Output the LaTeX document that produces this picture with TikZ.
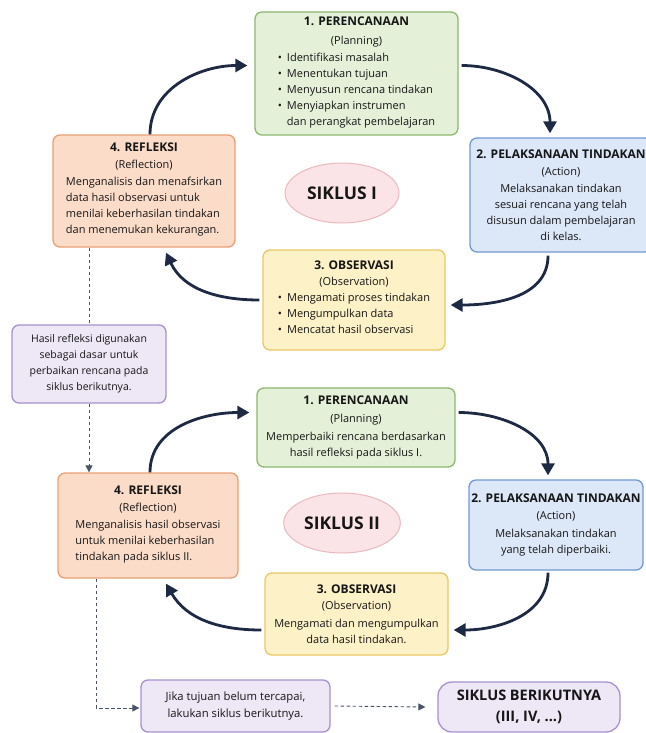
\documentclass[tikz,border=0pt]{standalone}
\usepackage{fontspec}
\setmainfont{Open Sans}
\usetikzlibrary{shapes.geometric,arrows.meta,calc}
\definecolor{gfill}{HTML}{E4F1D8}\definecolor{gline}{HTML}{8DB870}
\definecolor{bfill}{HTML}{DCE7F8}\definecolor{bline}{HTML}{7199D4}
\definecolor{yfill}{HTML}{FDF1C7}\definecolor{yline}{HTML}{EBC864}
\definecolor{ofill}{HTML}{FBDCC9}\definecolor{oline}{HTML}{E9A075}
\definecolor{pfill}{HTML}{EDE7F6}\definecolor{pline}{HTML}{A891CC}
\definecolor{efill}{HTML}{FBE4E7}\definecolor{eline}{HTML}{E9B9BE}
\definecolor{navy}{HTML}{1E2A44}
\definecolor{ink}{HTML}{161616}
\newcommand{\ttl}{\bfseries\fontsize{12}{14}\selectfont}
\newcommand{\bul}{•\hspace{5pt}}
\newcommand{\nobul}{\phantom{•}\hspace{5pt}}
\begin{document}
\begin{tikzpicture}[x=1pt,y=-1pt,
  box/.style={draw, rounded corners=7pt, line width=1.3pt, align=center, inner sep=0pt, text=ink,
    font=\fontsize{11}{16}\selectfont},
  oval/.style={ellipse, draw=eline, fill=efill, line width=1pt, minimum width=114pt, minimum height=60pt,
    font=\bfseries\fontsize{17.5}{22}\selectfont, text=ink},
  cyc/.style={draw=navy, line width=2.8pt, -{Triangle[length=12pt,width=13pt]}},
  dsh/.style={draw=navy!80, line width=0.9pt, dash pattern=on 3.5pt off 2.5pt},
  dsha/.style={dsh, -{Triangle[length=7pt,width=7pt]}}
]
\useasboundingbox (0,0) rectangle (645,733);
\fill[white] (0,0) rectangle (645,733);

% ---------- SIKLUS I ----------
\node[box, fill=gfill, draw=gline, minimum width=203pt, minimum height=123pt] (p1) at (356.5,73.5)
  {{\ttl 1. PERENCANAAN}\\[3pt] (Planning)\\[2pt]
   \begin{tabular}{@{}l@{}}\bul Identifikasi masalah\\ \bul Menentukan tujuan\\ \bul Menyusun rencana tindakan\\
   \bul Menyiapkan instrumen\\ \nobul dan perangkat pembelajaran\end{tabular}\hspace{6pt}};
\node[box, fill=bfill, draw=bline, minimum width=182pt, minimum height=114pt] (a1) at (561,195)
  {{\ttl 2. PELAKSANAAN TINDAKAN}\\[1pt] (Action)\\[1pt] Melaksanakan tindakan\\ sesuai rencana yang telah\\
   disusun dalam pembelajaran\\ di kelas.};
\node[box, fill=yfill, draw=yline, minimum width=182pt, minimum height=100pt] (o1) at (354,300)
  {{\ttl 3. OBSERVASI}\\[0pt] (Observation)\\[2pt]
   \begin{tabular}{@{}l@{}}\bul Mengamati proses tindakan\\ \bul Mengumpulkan data\\ \bul Mencatat hasil observasi\end{tabular}};
\node[box, fill=ofill, draw=oline, minimum width=182pt, minimum height=112pt] (r1) at (144,191)
  {{\ttl 4. REFLEKSI}\\[1pt] (Reflection)\\[3pt]
   \begin{tabular}{@{}l@{}}Menganalisis dan menafsirkan\\ data hasil observasi untuk\\ menilai keberhasilan tindakan\\
   dan menemukan kekurangan.\end{tabular}};
\node[oval] (e1) at (342,193) {SIKLUS I};

\draw[cyc] ([xshift=6pt]r1.north) to[out=90,in=180] ([yshift=8pt,xshift=-7pt]p1.west);
\draw[cyc] ([yshift=8pt,xshift=3pt]p1.east) to[out=0,in=90] ([xshift=-11pt,yshift=4pt]a1.north);
\draw[cyc] ([xshift=-13pt,yshift=-3pt]a1.south) to[out=-90,in=0] ([xshift=5pt,yshift=-5pt]o1.east);
\draw[cyc] ([xshift=-3pt]o1.west) to[out=180,in=-65] ([xshift=22pt,yshift=-5pt]r1.south);

% ---------- transition box ----------
\node[box, fill=pfill, draw=pline, minimum width=154pt, minimum height=78pt,
  font=\fontsize{10.5}{16}\selectfont] (pu) at (89,364)
  {Hasil refleksi digunakan\\ sebagai dasar untuk\\ perbaikan rencana pada\\ siklus berikutnya.};

% ---------- SIKLUS II ----------
\node[box, fill=gfill, draw=gline, minimum width=198pt, minimum height=79pt] (p2) at (356,427.5)
  {{\ttl 1. PERENCANAAN}\\[2pt] (Planning)\\[2pt] Memperbaiki rencana berdasarkan\\ hasil refleksi pada siklus I.};
\node[box, fill=bfill, draw=bline, minimum width=174pt, minimum height=90pt] (a2) at (556,525)
  {{\ttl 2. PELAKSANAAN TINDAKAN}\\[1pt] (Action)\\[2pt] Melaksanakan tindakan\\ yang telah diperbaiki.};
\node[box, fill=yfill, draw=yline, minimum width=183pt, minimum height=82pt] (o2) at (356.5,614)
  {{\ttl 3. OBSERVASI}\\[0pt] (Observation)\\[2pt] Mengamati dan mengumpulkan\\ data hasil tindakan.};
\node[box, fill=ofill, draw=oline, minimum width=180pt, minimum height=105pt] (r2) at (148,525.5)
  {{\ttl 4. REFLEKSI}\\[1pt] (Reflection)\\[3pt]
   \begin{tabular}{@{}l@{}}Menganalisis hasil observasi\\ untuk menilai keberhasilan\\ tindakan pada siklus II.\end{tabular}};
\node[oval] (e2) at (342,523) {SIKLUS II};

\draw[cyc] ([xshift=2pt]r2.north) to[out=90,in=180] ([yshift=15pt,xshift=-7pt]p2.west);
\draw[cyc] ([yshift=15pt,xshift=3pt]p2.east) to[out=0,in=90] ([xshift=-8pt,yshift=4pt]a2.north);
\draw[cyc] ([xshift=-8pt,yshift=-2pt]a2.south) to[out=-90,in=0] ([xshift=5pt,yshift=-16pt]o2.east);
\draw[cyc] ([xshift=-3pt,yshift=-16pt]o2.west) to[out=180,in=-60] ([xshift=18pt,yshift=-5pt]r2.south);

% ---------- dashed links ----------
\draw[dsh] (r1.south -| pu.north) -- (pu.north);
\draw[dsha] (pu.south) -- (pu.south |- r2.north);
\coordinate (r2d) at ([xshift=39pt]r2.south west);
\node[box, fill=pfill, draw=pline, minimum width=189pt, minimum height=52pt,
  font=\fontsize{11.3}{17}\selectfont] (j) at (235.5,706)
  {Jika tujuan belum tercapai,\\ lakukan siklus berikutnya.};
\node[box, fill=pfill, draw=pline, rounded corners=14pt, minimum width=182pt, minimum height=50pt,
  font=\bfseries\fontsize{14.5}{21}\selectfont] (s) at (529,707)
  {SIKLUS BERIKUTNYA\\ (III, IV, ...)};
\draw[dsha] (r2d) |- ([xshift=-1pt,yshift=-2pt]j.west);
\draw[dsha] ([xshift=4pt]j.east) -- ([xshift=-12pt]s.west);
\end{tikzpicture}
\end{document}
